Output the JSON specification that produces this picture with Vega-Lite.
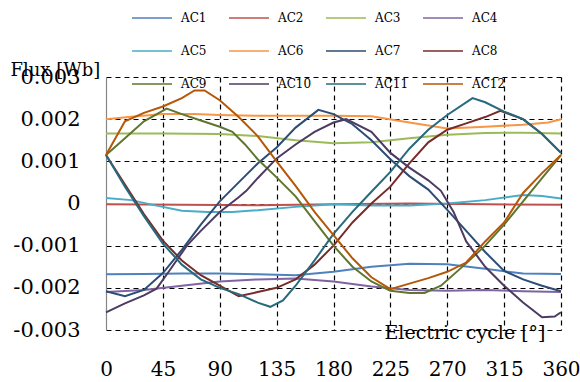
{
  "$schema": "https://vega.github.io/schema/vega-lite/v6.json",
  "autosize": "none",
  "width": 455,
  "height": 253,
  "padding": {"left": 106, "top": 77, "right": 19, "bottom": 52},
  "background": "white",
  "config": {"font": "DejaVu Serif", "view": {"stroke": null}},
  "data": {"values": [
    {"s":"AC1","a":0,"v":-0.00168},{"s":"AC1","a":30,"v":-0.00167},{"s":"AC1","a":60,"v":-0.00166},{"s":"AC1","a":90,"v":-0.00166},{"s":"AC1","a":120,"v":-0.00168},{"s":"AC1","a":150,"v":-0.0017},{"s":"AC1","a":180,"v":-0.00162},{"s":"AC1","a":210,"v":-0.0015},{"s":"AC1","a":240,"v":-0.00143},{"s":"AC1","a":270,"v":-0.00144},{"s":"AC1","a":300,"v":-0.00155},{"s":"AC1","a":330,"v":-0.00166},{"s":"AC1","a":360,"v":-0.00167},
    {"s":"AC2","a":0,"v":-0.00002},{"s":"AC2","a":60,"v":-0.00003},{"s":"AC2","a":120,"v":-0.00004},{"s":"AC2","a":180,"v":-0.00002},{"s":"AC2","a":240,"v":0.0},{"s":"AC2","a":300,"v":-0.00002},{"s":"AC2","a":360,"v":-0.00003},
    {"s":"AC3","a":0,"v":0.00166},{"s":"AC3","a":45,"v":0.00166},{"s":"AC3","a":90,"v":0.00165},{"s":"AC3","a":120,"v":0.0016},{"s":"AC3","a":150,"v":0.0015},{"s":"AC3","a":180,"v":0.00143},{"s":"AC3","a":210,"v":0.00145},{"s":"AC3","a":240,"v":0.00155},{"s":"AC3","a":270,"v":0.00163},{"s":"AC3","a":300,"v":0.00167},{"s":"AC3","a":330,"v":0.00168},{"s":"AC3","a":360,"v":0.00166},
    {"s":"AC4","a":0,"v":-0.0021},{"s":"AC4","a":30,"v":-0.00205},{"s":"AC4","a":60,"v":-0.00195},{"s":"AC4","a":90,"v":-0.00185},{"s":"AC4","a":120,"v":-0.0018},{"s":"AC4","a":150,"v":-0.00178},{"s":"AC4","a":180,"v":-0.00185},{"s":"AC4","a":210,"v":-0.00197},{"s":"AC4","a":240,"v":-0.00205},{"s":"AC4","a":270,"v":-0.00207},{"s":"AC4","a":300,"v":-0.00205},{"s":"AC4","a":330,"v":-0.00208},{"s":"AC4","a":360,"v":-0.0021},
    {"s":"AC5","a":0,"v":0.00013},{"s":"AC5","a":20,"v":0.00008},{"s":"AC5","a":40,"v":-0.00005},{"s":"AC5","a":60,"v":-0.00017},{"s":"AC5","a":80,"v":-0.0002},{"s":"AC5","a":100,"v":-0.0002},{"s":"AC5","a":120,"v":-0.00016},{"s":"AC5","a":150,"v":-0.00008},{"s":"AC5","a":180,"v":-0.00002},{"s":"AC5","a":210,"v":-0.00005},{"s":"AC5","a":240,"v":-0.00005},{"s":"AC5","a":270,"v":0.0},{"s":"AC5","a":300,"v":0.00008},{"s":"AC5","a":330,"v":0.0002},{"s":"AC5","a":345,"v":0.00018},{"s":"AC5","a":360,"v":0.00012},
    {"s":"AC6","a":0,"v":0.002},{"s":"AC6","a":20,"v":0.00206},{"s":"AC6","a":45,"v":0.00212},{"s":"AC6","a":70,"v":0.00212},{"s":"AC6","a":90,"v":0.0021},{"s":"AC6","a":120,"v":0.00208},{"s":"AC6","a":150,"v":0.00208},{"s":"AC6","a":180,"v":0.00208},{"s":"AC6","a":210,"v":0.00207},{"s":"AC6","a":240,"v":0.00192},{"s":"AC6","a":270,"v":0.00178},{"s":"AC6","a":300,"v":0.00182},{"s":"AC6","a":330,"v":0.00187},{"s":"AC6","a":350,"v":0.00192},{"s":"AC6","a":360,"v":0.002},
    {"s":"AC7","a":0,"v":-0.00208},{"s":"AC7","a":15,"v":-0.0022},{"s":"AC7","a":30,"v":-0.00205},{"s":"AC7","a":45,"v":-0.00165},{"s":"AC7","a":60,"v":-0.0011},{"s":"AC7","a":75,"v":-0.0005},{"s":"AC7","a":90,"v":0.00005},{"s":"AC7","a":105,"v":0.0005},{"s":"AC7","a":120,"v":0.00095},{"s":"AC7","a":135,"v":0.00133},{"s":"AC7","a":150,"v":0.0018},{"s":"AC7","a":168,"v":0.00222},{"s":"AC7","a":180,"v":0.00212},{"s":"AC7","a":195,"v":0.00188},{"s":"AC7","a":210,"v":0.0015},{"s":"AC7","a":225,"v":0.00105},{"s":"AC7","a":240,"v":0.00065},{"s":"AC7","a":255,"v":0.00033},{"s":"AC7","a":270,"v":-0.00015},{"s":"AC7","a":285,"v":-0.00065},{"s":"AC7","a":300,"v":-0.00115},{"s":"AC7","a":315,"v":-0.0016},{"s":"AC7","a":330,"v":-0.0018},{"s":"AC7","a":345,"v":-0.00195},{"s":"AC7","a":360,"v":-0.00208},
    {"s":"AC8","a":0,"v":0.00115},{"s":"AC8","a":15,"v":0.00045},{"s":"AC8","a":30,"v":-0.00025},{"s":"AC8","a":45,"v":-0.00088},{"s":"AC8","a":60,"v":-0.00135},{"s":"AC8","a":75,"v":-0.0017},{"s":"AC8","a":90,"v":-0.00195},{"s":"AC8","a":105,"v":-0.0022},{"s":"AC8","a":120,"v":-0.0021},{"s":"AC8","a":135,"v":-0.002},{"s":"AC8","a":150,"v":-0.0018},{"s":"AC8","a":165,"v":-0.00145},{"s":"AC8","a":180,"v":-0.001},{"s":"AC8","a":195,"v":-0.00045},{"s":"AC8","a":210,"v":0.0},{"s":"AC8","a":225,"v":0.0004},{"s":"AC8","a":240,"v":0.00095},{"s":"AC8","a":255,"v":0.00145},{"s":"AC8","a":270,"v":0.00175},{"s":"AC8","a":285,"v":0.0019},{"s":"AC8","a":300,"v":0.00205},{"s":"AC8","a":312,"v":0.0022},{"s":"AC8","a":330,"v":0.002},{"s":"AC8","a":345,"v":0.00165},{"s":"AC8","a":360,"v":0.0012},
    {"s":"AC9","a":0,"v":0.00115},{"s":"AC9","a":15,"v":0.00155},{"s":"AC9","a":30,"v":0.00195},{"s":"AC9","a":48,"v":0.00225},{"s":"AC9","a":60,"v":0.00212},{"s":"AC9","a":75,"v":0.00197},{"s":"AC9","a":90,"v":0.00182},{"s":"AC9","a":100,"v":0.0017},{"s":"AC9","a":110,"v":0.0014},{"s":"AC9","a":120,"v":0.00105},{"s":"AC9","a":135,"v":0.00062},{"s":"AC9","a":150,"v":0.00017},{"s":"AC9","a":165,"v":-0.00042},{"s":"AC9","a":180,"v":-0.001},{"s":"AC9","a":195,"v":-0.0015},{"s":"AC9","a":210,"v":-0.00185},{"s":"AC9","a":225,"v":-0.00207},{"s":"AC9","a":240,"v":-0.00212},{"s":"AC9","a":252,"v":-0.00212},{"s":"AC9","a":265,"v":-0.00195},{"s":"AC9","a":285,"v":-0.00142},{"s":"AC9","a":300,"v":-0.001},{"s":"AC9","a":315,"v":-0.0005},{"s":"AC9","a":330,"v":0.00005},{"s":"AC9","a":345,"v":0.0006},{"s":"AC9","a":360,"v":0.00115},
    {"s":"AC10","a":0,"v":-0.00258},{"s":"AC10","a":15,"v":-0.00237},{"s":"AC10","a":30,"v":-0.00218},{"s":"AC10","a":40,"v":-0.00202},{"s":"AC10","a":50,"v":-0.0016},{"s":"AC10","a":64,"v":-0.001},{"s":"AC10","a":75,"v":-0.00065},{"s":"AC10","a":90,"v":-0.0002},{"s":"AC10","a":105,"v":0.00015},{"s":"AC10","a":111,"v":0.0003},{"s":"AC10","a":120,"v":0.0006},{"s":"AC10","a":135,"v":0.00107},{"s":"AC10","a":150,"v":0.0014},{"s":"AC10","a":165,"v":0.0017},{"s":"AC10","a":180,"v":0.00192},{"s":"AC10","a":190,"v":0.002},{"s":"AC10","a":210,"v":0.0017},{"s":"AC10","a":225,"v":0.0012},{"s":"AC10","a":240,"v":0.00085},{"s":"AC10","a":255,"v":0.00055},{"s":"AC10","a":265,"v":0.0003},{"s":"AC10","a":275,"v":-0.0002},{"s":"AC10","a":285,"v":-0.0009},{"s":"AC10","a":300,"v":-0.0015},{"s":"AC10","a":315,"v":-0.00195},{"s":"AC10","a":330,"v":-0.00235},{"s":"AC10","a":345,"v":-0.0027},{"s":"AC10","a":355,"v":-0.00268},{"s":"AC10","a":360,"v":-0.00258},
    {"s":"AC11","a":0,"v":0.00115},{"s":"AC11","a":15,"v":0.0004},{"s":"AC11","a":30,"v":-0.0003},{"s":"AC11","a":45,"v":-0.00095},{"s":"AC11","a":60,"v":-0.00145},{"s":"AC11","a":75,"v":-0.0018},{"s":"AC11","a":90,"v":-0.002},{"s":"AC11","a":105,"v":-0.00215},{"s":"AC11","a":120,"v":-0.00235},{"s":"AC11","a":130,"v":-0.00245},{"s":"AC11","a":140,"v":-0.0023},{"s":"AC11","a":150,"v":-0.00195},{"s":"AC11","a":165,"v":-0.00135},{"s":"AC11","a":180,"v":-0.00072},{"s":"AC11","a":195,"v":-0.0002},{"s":"AC11","a":210,"v":0.00028},{"s":"AC11","a":225,"v":0.00075},{"s":"AC11","a":240,"v":0.0013},{"s":"AC11","a":255,"v":0.00175},{"s":"AC11","a":270,"v":0.0021},{"s":"AC11","a":290,"v":0.0025},{"s":"AC11","a":300,"v":0.0024},{"s":"AC11","a":315,"v":0.00218},{"s":"AC11","a":330,"v":0.002},{"s":"AC11","a":345,"v":0.00165},{"s":"AC11","a":360,"v":0.0012},
    {"s":"AC12","a":0,"v":0.00115},{"s":"AC12","a":15,"v":0.00195},{"s":"AC12","a":30,"v":0.00215},{"s":"AC12","a":45,"v":0.0023},{"s":"AC12","a":60,"v":0.0025},{"s":"AC12","a":70,"v":0.00268},{"s":"AC12","a":78,"v":0.00268},{"s":"AC12","a":90,"v":0.00245},{"s":"AC12","a":105,"v":0.00205},{"s":"AC12","a":120,"v":0.0016},{"s":"AC12","a":135,"v":0.001},{"s":"AC12","a":150,"v":0.00042},{"s":"AC12","a":165,"v":-0.0002},{"s":"AC12","a":180,"v":-0.00075},{"s":"AC12","a":195,"v":-0.0013},{"s":"AC12","a":210,"v":-0.00175},{"s":"AC12","a":225,"v":-0.00203},{"s":"AC12","a":240,"v":-0.0019},{"s":"AC12","a":255,"v":-0.00177},{"s":"AC12","a":270,"v":-0.00162},{"s":"AC12","a":285,"v":-0.0014},{"s":"AC12","a":300,"v":-0.0009},{"s":"AC12","a":315,"v":-0.00045},{"s":"AC12","a":330,"v":0.00025},{"s":"AC12","a":345,"v":0.00072},{"s":"AC12","a":360,"v":0.00115}
  ]},
  "mark": {"type": "line", "strokeWidth": 2},
  "encoding": {
    "x": {"field": "a", "type": "quantitative",
      "scale": {"domain": [0, 360], "nice": false, "zero": false},
      "axis": {"values": [0,45,90,135,180,225,270,315,360], "title": "Electric cycle [°]",
        "grid": true, "gridDash": [5,4], "gridWidth": 1.2,
        "gridColor": {"condition": {"test": "datum.value === 0", "value": "transparent"}, "value": "black"},
        "domain": false, "ticks": false,
        "labelFont": "DejaVu Serif", "labelFontSize": 20, "labelColor": "black", "labelPadding": 29, "labelFlush": false,
        "titleFont": "DejaVu Serif", "titleFontSize": 19, "titleFontWeight": "normal", "titleColor": "black",
        "titleAnchor": "end", "titleAlign": "right", "titleBaseline": "alphabetic", "titleX": 439, "titleY": 8}},
    "y": {"field": "v", "type": "quantitative",
      "scale": {"domain": [-0.003, 0.003], "nice": false},
      "axis": {"values": [-0.003,-0.002,-0.001,0,0.001,0.002,0.003], "title": "Flux [Wb]",
        "labelExpr": "datum.value == 0 ? '0' : (datum.value < 0 ? '-' : '') + format(abs(datum.value), '.3f')",
        "grid": true, "gridDash": [5,4], "gridWidth": 1.2, "gridColor": "black",
        "domain": true, "domainColor": "#868686", "domainWidth": 1.2, "ticks": false,
        "labelFont": "DejaVu Serif", "labelFontSize": 21, "labelColor": "black", "labelPadding": 26,
        "titleFont": "DejaVu Serif", "titleFontSize": 18, "titleFontWeight": "normal", "titleColor": "black",
        "titleAngle": 0, "titleAlign": "left", "titleBaseline": "alphabetic", "titleX": -96, "titleY": -2}},
    "color": {"field": "s", "type": "nominal",
      "scale": {"domain": ["AC1","AC2","AC3","AC4","AC5","AC6","AC7","AC8","AC9","AC10","AC11","AC12"],
        "range": ["#4F81BD","#C0504D","#9BBB59","#8064A2","#4BACC6","#F79646","#2C4D75","#772C2A","#5F7530","#4D3B62","#276A7C","#B65708"]},
      "legend": {"orient": "none", "legendX": 25, "legendY": -80, "direction": "horizontal", "columns": 4,
        "title": null, "padding": 0, "symbolType": "stroke", "symbolSize": 1600, "symbolStrokeWidth": 1.5,
        "labelFont": "DejaVu Serif", "labelFontSize": 12, "labelColor": "black", "labelOffset": 8,
        "columnPadding": 11, "rowPadding": 6, "gridAlign": "all"}}
  }
}
